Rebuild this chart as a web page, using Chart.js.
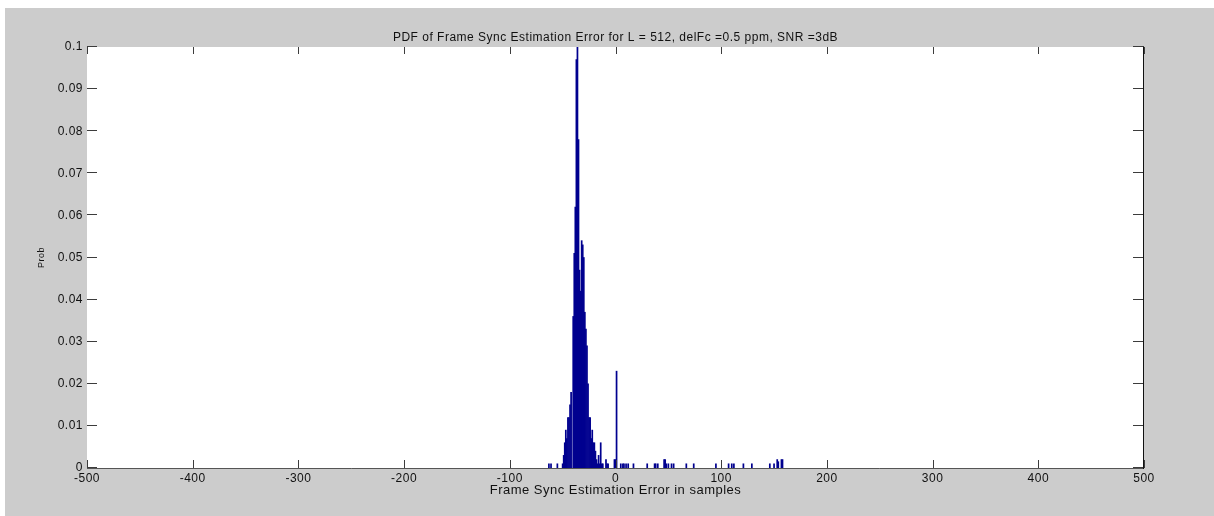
<!DOCTYPE html>
<html>
<head>
<meta charset="utf-8">
<script src="https://cdn.jsdelivr.net/npm/chart.js@4.4.0/dist/chart.umd.min.js"></script>
<style>
  body { margin: 0; background: #fff; }
  #wrap { position: absolute; left: 5px; top: 8px; width: 1209px; height: 508px; background: #cccccc; }
</style>
</head>
<body>
<div id="wrap"><canvas id="pdf-chart" width="1209" height="508"></canvas></div>
<script>
// histogram of frame sync error: bin (samples) and probability
let err_samples = [
    -63, -61, -55, -50, -49, -48, -47, -46, -45, -44, -43, -42,
    -40, -39, -38, -37, -36, -35, -34, -33, -32, -31, -30, -29, -28, -27, -26,
    -25, -24, -23, -22, -21, -20, -19, -18, -17, -16, -15, -14, -13, -12,
    -9, -8, -7, -1, 0, 1, 5, 7, 8, 10, 12, 17, 30, 37, 38, 40,
    46, 47, 48, 50, 53, 55, 67, 74, 95, 107, 110, 112, 121, 129,
    146, 150, 153, 154, 157, 158
];
let err_prob = [
    0.001, 0.001, 0.001, 0.001, 0.003, 0.006, 0.009, 0.007, 0.012, 0.012, 0.015, 0.018,
    0.036, 0.051, 0.062, 0.097, 0.1, 0.078, 0.047, 0.042, 0.054, 0.053, 0.05, 0.037, 0.033, 0.029, 0.02,
    0.012, 0.012, 0.007, 0.009, 0.006, 0.006, 0.004, 0.002, 0.001, 0.003, 0.001, 0.006, 0.001, 0.001,
    0.002, 0.001, 0.001, 0.002, 0.002, 0.023, 0.001, 0.001, 0.001, 0.001, 0.001, 0.001, 0.001, 0.001, 0.001, 0.001,
    0.002, 0.002, 0.001, 0.001, 0.001, 0.001, 0.001, 0.001, 0.001, 0.001, 0.001, 0.001, 0.001, 0.001,
    0.001, 0.001, 0.002, 0.0015, 0.002, 0.002
];
let x_ticks = [-500, -400, -300, -200, -100, 0, 100, 200, 300, 400, 500];
let y_ticks = [0, 0.01, 0.02, 0.03, 0.04, 0.05, 0.06, 0.07, 0.08, 0.09, 0.1];
let y_tick_labels = ['0', '0.01', '0.02', '0.03', '0.04', '0.05', '0.06', '0.07', '0.08', '0.09', '0.1'];

let font_family = "'Liberation Sans', Arial, sans-serif";
let txt_font = { family: font_family, size: 12, weight: 'normal' };

// white plot box, inward tick marks and the bottom/right edges
let axis_box = {
    id: 'axis_box',
    beforeDraw(chart) {
        let { ctx, chartArea: a } = chart;
        ctx.save();
        ctx.fillStyle = '#ffffff';
        ctx.fillRect(a.left, a.top, a.right - a.left, a.bottom - a.top);
        ctx.restore();
        // slightly wider text, like the old figure font
        ctx.letterSpacing = '0.5px';
    },
    afterDatasetsDraw(chart) {
        let { ctx, chartArea: a, scales } = chart;
        ctx.save();
        ctx.lineWidth = 1;
        ctx.strokeStyle = '#3c3c3c';
        ctx.beginPath();
        scales.x.ticks.forEach((t) => {
            let px = Math.round(scales.x.getPixelForValue(t.value)) + 0.5;
            ctx.moveTo(px, a.bottom);
            ctx.lineTo(px, a.bottom - 8);
            ctx.moveTo(px, a.top);
            ctx.lineTo(px, a.top + 7);
        });
        scales.y.ticks.forEach((t) => {
            let py = Math.round(scales.y.getPixelForValue(t.value)) - 0.5;
            ctx.moveTo(a.left, py);
            ctx.lineTo(a.left + 10, py);
            ctx.moveTo(a.right, py);
            ctx.lineTo(a.right - 11, py);
        });
        ctx.stroke();
        ctx.beginPath();
        ctx.strokeStyle = '#555555';
        ctx.moveTo(a.left, a.bottom + 0.5);
        ctx.lineTo(a.right, a.bottom + 0.5);
        ctx.stroke();
        ctx.beginPath();
        ctx.strokeStyle = '#111111';
        ctx.moveTo(a.right - 0.5, a.top);
        ctx.lineTo(a.right - 0.5, a.bottom + 1);
        ctx.stroke();
        ctx.restore();
    }
};

let ctx = document.getElementById('pdf-chart');
let chart = new Chart(ctx, {
    type: 'bar',
    data: {
        datasets: [
            {
                data: err_samples.map((x, i) => ({ x: x, y: err_prob[i] })),
                backgroundColor: '#00008f',
                borderWidth: 0,
                barPercentage: 1,
                categoryPercentage: 1,
            }
        ],
    },
    options: {
        responsive: false,
        animation: false,
        devicePixelRatio: 1,
        layout: { padding: { left: 0, right: 70, top: 0, bottom: 0 } },
        plugins: {
            legend: { display: false },
            tooltip: { enabled: false },
            title: {
                display: true,
                fullSize: false,
                text: 'PDF of Frame Sync Estimation Error for L = 512, delFc =0.5 ppm, SNR =3dB',
                color: '#111',
                font: txt_font,
                padding: { top: 22, bottom: 2.6 },
            },
        },
        scales: {
            x: {
                type: 'linear',
                min: -500,
                max: 500,
                offset: false,
                afterBuildTicks: (s) => { s.ticks = x_ticks.map((v) => ({ value: v })); },
                afterFit: (s) => { s.height = 48; },
                grid: { display: false, drawTicks: false, tickLength: 0 },
                border: { display: false },
                ticks: {
                    padding: 3,
                    color: '#111',
                    font: txt_font,
                    maxRotation: 0,
                    autoSkip: false,
                    callback: (v) => String(v),
                },
                title: {
                    display: true,
                    text: 'Frame Sync Estimation Error in samples',
                    color: '#111',
                    font: { family: font_family, size: 13, weight: 'normal' },
                    padding: { top: 0, bottom: 18.2 },
                },
            },
            y: {
                min: 0,
                max: 0.1,
                afterBuildTicks: (s) => { s.ticks = y_ticks.map((v) => ({ value: v })); },
                afterFit: (s) => { s.width = 82; },
                grid: { display: false, drawTicks: false, tickLength: 0 },
                border: { display: false },
                ticks: {
                    padding: 4,
                    color: '#111',
                    font: txt_font,
                    autoSkip: false,
                    callback: (v, i) => y_tick_labels[i],
                },
                title: {
                    display: true,
                    text: 'Prob',
                    color: '#111',
                    font: { family: font_family, size: 9, weight: 'normal' },
                    padding: { top: 31.6, bottom: 0 },
                },
            },
        },
    },
    plugins: [axis_box],
});
</script>
</body>
</html>
